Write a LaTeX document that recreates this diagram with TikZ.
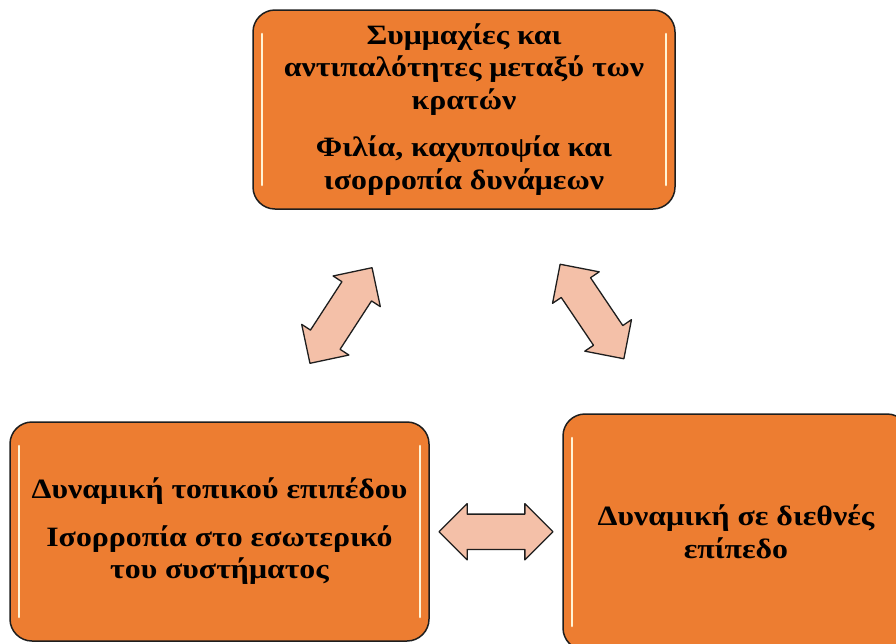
\documentclass[tikz,border=0pt]{standalone}
\usepackage{fontspec}
\setmainfont{Liberation Serif}
\newfontfamily\boxfont[FakeStretch=1.136]{Liberation Serif}
\usepackage{xcolor}
\usetikzlibrary{calc,shapes.arrows}
\definecolor{bg}{HTML}{FFFFFF}
\definecolor{boxfill}{HTML}{ED7D31}
\definecolor{edge}{HTML}{1E1E1E}
\definecolor{arrowfill}{HTML}{F4C0A8}
\definecolor{shine}{HTML}{FFF4D6}
\tikzset{
  topicBox/.style={draw=edge, fill=boxfill, line width=1.5pt, rounded corners=22pt,
    align=center, inner sep=4pt, font=\boxfont\bfseries\fontsize{28}{32.5}\selectfont,
    path picture={
      \draw[shine, line width=2.6pt, line cap=round]
        ([xshift=9pt,yshift=-24pt]path picture bounding box.north west) --
        ([xshift=9pt,yshift=24pt]path picture bounding box.south west);
      \draw[shine, line width=2.6pt, line cap=round]
        ([xshift=-9pt,yshift=-24pt]path picture bounding box.north east) --
        ([xshift=-9pt,yshift=24pt]path picture bounding box.south east);
    }},
  biArrow/.style={double arrow, draw=edge, fill=arrowfill, line width=1.3pt, line join=round,
    minimum height=114pt, minimum width=55pt, inner sep=0pt,
    text height=17pt, text depth=17pt, text width=0pt,
    double arrow head extend=10.5pt},
}

\begin{document}
\begin{tikzpicture}[x=1pt,y=-1pt]
  \useasboundingbox (0,0) rectangle (896,643);
  \fill[bg] (0,0) rectangle (896,643);
  \clip (0,0) rectangle (896,643);

  \node[topicBox, minimum width=422pt, minimum height=199pt] (alliances) at (464,109.5)
    {Συμμαχίες και\\ αντιπαλότητες μεταξύ των\\ κρατών\\[15pt]
     Φιλία, καχυποψία και\\ ισορροπία δυνάμεων};
  \node[topicBox, minimum width=419pt, minimum height=219pt] (local) at (219.5,531.5)
    {Δυναμική τοπικού επιπέδου\\[15pt]
     Ισορροπία στο εσωτερικό\\ του συστήματος};
  \node[topicBox, minimum width=346pt, minimum height=236pt] (global) at (736,532)
    {Δυναμική σε διεθνές\\ επίπεδο};

  \node[biArrow, rotate=57] (alliancesLocal)
    at ($(alliances.south west)!0.5!(local.north east)$) {};
  \node[biArrow, rotate=-56] (alliancesGlobal)
    at ($(alliances.south east)!0.5!(global.north west)+(-27,0)$) {};
  \node[biArrow] (localGlobal)
    at ($(local.east)!0.5!(global.west)$) {};
\end{tikzpicture}
\end{document}
